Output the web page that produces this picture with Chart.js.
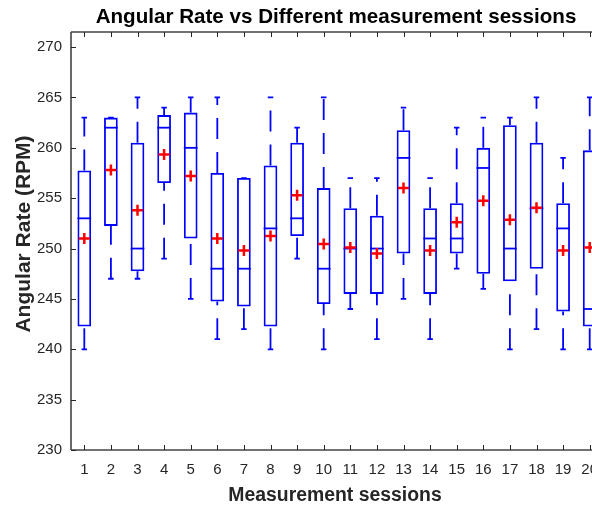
<!DOCTYPE html>
<html>
<head>
<meta charset="utf-8">
<script src="https://cdn.jsdelivr.net/npm/chart.js@4/dist/chart.umd.min.js"></script>
<style>
html,body{margin:0;padding:0;overflow:hidden;background:#fff;}
#wrap{width:620px;height:506px;position:relative;}
</style>
</head>
<body>
<div id="wrap"><canvas id="c"></canvas></div>
<script>
const sessions = ['1','2','3','4','5','6','7','8','9','10','11','12','13','14','15','16','17','18','19','20'];
const whiskerLow  = [240,247,247,249,245,241,242,240,249,240,244,241,245,241,248,246,240,242,240,240];
const q1          = [242.25,252.25,247.75,256.5,251,244.75,244.25,242.25,251.25,244.5,245.5,245.5,249.5,245.5,249.5,247.5,246.75,248,243.75,242.25];
const medians     = [253,262,250,262,260,248,248,252,253,248,250,250,259,251,251,258,250,254,252,244];
const q3          = [257.75,263,260.5,263.25,263.5,257.5,257,258.25,260.5,256,254,253.25,261.75,254,254.5,260,262.25,260.5,254.5,259.75];
const whiskerHigh = [263,263,265,264,265,265,257,265,262,265,257,257,264,257,262,263,263,265,259,265];
const means       = [251.0,257.8,253.8,259.35,257.2,251.0,249.8,251.25,255.3,250.45,250.1,249.5,256.0,249.8,252.6,254.75,252.85,254.05,249.8,250.1];
const yTicks      = [230,235,240,245,250,255,260,265,270];
const titleText = 'Angular Rate vs Different measurement sessions';
const xLabel = 'Measurement sessions';
const yLabel = 'Angular Rate (RPM)';

const FONT = "'Liberation Sans', Arial, Helvetica, sans-serif";
const AX = '#262626';
const BLUE = '#0000ff';

const boxPlugin = {
  id: 'boxParts',
  beforeDatasetsDraw(chart) {
    const ctx = chart.ctx, xs = chart.scales.x, ys = chart.scales.y;
    const meta = chart.getDatasetMeta(0);
    ctx.save();
    ctx.strokeStyle = BLUE;
    ctx.lineWidth = 1.8;
    sessions.forEach((s, i) => {
      const x = xs.getPixelForValue(i);
      const w = meta.data[i].width;
      const cap = w * 0.2;
      const yq1 = ys.getPixelForValue(q1[i]);
      const yq3 = ys.getPixelForValue(q3[i]);
      const ylo = ys.getPixelForValue(whiskerLow[i]);
      const yhi = ys.getPixelForValue(whiskerHigh[i]);
      const ym = ys.getPixelForValue(medians[i]);
      ctx.setLineDash([21, 13]);
      if (yhi < yq3) { ctx.beginPath(); ctx.moveTo(x, yq3); ctx.lineTo(x, yhi); ctx.stroke(); }
      if (ylo > yq1) { ctx.beginPath(); ctx.moveTo(x, ylo); ctx.lineTo(x, yq1); ctx.stroke(); }
      ctx.setLineDash([]);
      ctx.beginPath();
      ctx.moveTo(x - cap, yhi); ctx.lineTo(x + cap, yhi);
      ctx.moveTo(x - cap, ylo); ctx.lineTo(x + cap, ylo);
      ctx.stroke();
      ctx.beginPath();
      ctx.moveTo(x - w / 2, ym); ctx.lineTo(x + w / 2, ym);
      ctx.stroke();
    });
    ctx.restore();
  },
  afterDraw(chart) {
    const ctx = chart.ctx, xs = chart.scales.x, ys = chart.scales.y;
    const a = chart.chartArea;
    ctx.save();
    ctx.strokeStyle = '#444';
    ctx.lineWidth = 1.6;
    ctx.beginPath();
    ctx.moveTo(a.left, a.top); ctx.lineTo(a.left, a.bottom);
    ctx.moveTo(a.left, a.top); ctx.lineTo(a.right, a.top);
    ctx.moveTo(a.left, a.bottom); ctx.lineTo(a.right, a.bottom);
    ctx.moveTo(a.right, a.top); ctx.lineTo(a.right, a.bottom);
    ctx.stroke();
    ctx.strokeStyle = AX;
    ctx.lineWidth = 1;
    ctx.beginPath();
    yTicks.forEach(v => {
      const y = Math.round(ys.getPixelForValue(v)) + 0.5;
      ctx.moveTo(a.left, y); ctx.lineTo(a.left + 5, y);
      ctx.moveTo(a.right, y); ctx.lineTo(a.right - 5, y);
    });
    sessions.forEach((s, i) => {
      const x = Math.round(xs.getPixelForValue(i)) + 0.5;
      ctx.moveTo(x, a.bottom); ctx.lineTo(x, a.bottom - 5);
      ctx.moveTo(x, a.top); ctx.lineTo(x, a.top + 5);
    });
    ctx.stroke();
    const cx = (a.left + a.right) / 2;
    ctx.fillStyle = '#000';
    ctx.textAlign = 'center';
    ctx.textBaseline = 'alphabetic';
    ctx.font = 'bold 20.6px ' + FONT;
    ctx.fillText(titleText, cx - 1, 23);
    ctx.fillStyle = AX;
    ctx.font = 'bold 19.4px ' + FONT;
    ctx.fillText(xLabel, cx - 2, 501);
    ctx.save();
    ctx.translate(29.5, 234);
    ctx.rotate(-Math.PI / 2);
    ctx.font = 'bold 21px ' + FONT;
    ctx.fillText(yLabel, 0, 0);
    ctx.restore();
    ctx.restore();
  }
};

new Chart(document.getElementById('c'), {
  type: 'bar',
  data: {
    labels: sessions,
    datasets: [
      {
        type: 'bar',
        data: q1.map((v, i) => [v, q3[i]]),
        backgroundColor: 'rgba(0,0,0,0)',
        borderColor: BLUE,
        borderWidth: 1.8,
        borderSkipped: false,
        barPercentage: 0.515,
        categoryPercentage: 1,
        order: 2
      },
      {
        type: 'line',
        data: means,
        showLine: false,
        pointStyle: 'cross',
        pointRadius: 5.5,
        pointHoverRadius: 5.5,
        pointBorderColor: '#ff0000',
        pointBackgroundColor: '#ff0000',
        pointBorderWidth: 2.5,
        order: 1
      }
    ]
  },
  options: {
    responsive: true,
    maintainAspectRatio: false,
    animation: false,
    events: [],
    layout: { padding: { top: 32, right: 17, left: 0, bottom: 0 } },
    plugins: { legend: { display: false }, title: { display: false }, tooltip: { enabled: false } },
    scales: {
      x: {
        type: 'category',
        offset: true,
        grid: { display: false, drawTicks: false },
        border: { display: false },
        ticks: { color: AX, font: { family: FONT, size: 15 }, padding: 11, maxRotation: 0, autoSkip: false },
        afterFit(s) { s.height = 56; }
      },
      y: {
        type: 'linear',
        min: 230,
        max: 271.5,
        afterBuildTicks(s) { s.ticks = yTicks.map(v => ({ value: v })); },
        grid: { display: false, drawTicks: false },
        border: { display: false },
        ticks: { color: AX, font: { family: FONT, size: 15 }, padding: 9 },
        afterFit(s) { s.width = 71; }
      }
    }
  },
  plugins: [boxPlugin]
});
</script>
</body>
</html>
